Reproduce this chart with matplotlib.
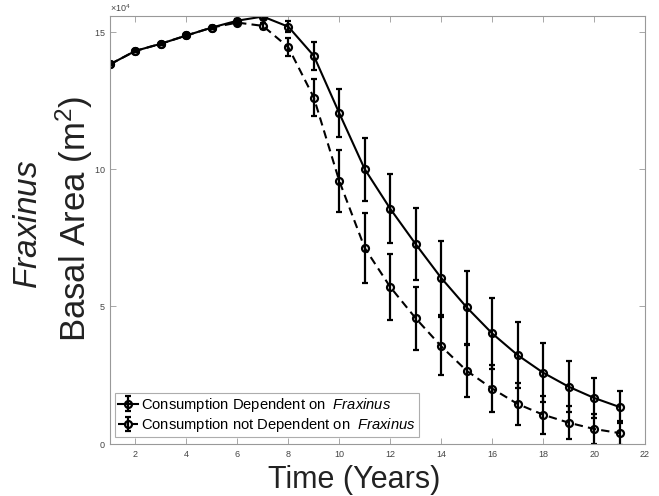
import numpy as np
import matplotlib
matplotlib.use('Agg')
import matplotlib.pyplot as plt

plt.rcParams['font.family'] = ['Liberation Sans', 'DejaVu Sans']
plt.rcParams['mathtext.fontset'] = 'custom'
plt.rcParams['mathtext.rm'] = 'Liberation Sans'
plt.rcParams['mathtext.it'] = 'Liberation Sans:italic'

years = np.arange(1, 22)

# basal area (x 10^4 m^2)
dep_mean = np.array([13.81, 14.30, 14.56, 14.86, 15.15, 15.40, 15.55, 15.18, 14.12, 12.03,
                     9.99, 8.55, 7.26, 6.03, 4.96, 4.01, 3.22, 2.58, 2.07, 1.66, 1.33])
dep_err = np.array([0.02, 0.03, 0.04, 0.05, 0.06, 0.07, 0.08, 0.21, 0.50, 0.87,
                    1.15, 1.26, 1.32, 1.36, 1.34, 1.28, 1.19, 1.08, 0.93, 0.74, 0.59])
nodep_mean = np.array([13.81, 14.30, 14.56, 14.86, 15.15, 15.33, 15.21, 14.43, 12.60, 9.56,
                       7.12, 5.70, 4.56, 3.54, 2.65, 2.00, 1.44, 1.05, 0.76, 0.53, 0.38])
nodep_err = np.array([0.02, 0.03, 0.04, 0.05, 0.06, 0.07, 0.10, 0.33, 0.67, 1.12,
                      1.27, 1.21, 1.14, 1.05, 0.95, 0.87, 0.78, 0.69, 0.61, 0.55, 0.45])

label_dep = 'Consumption Dependent on  $\\it{Fraxinus}$'
label_nodep = 'Consumption not Dependent on  $\\it{Fraxinus}$'

fig = plt.figure(figsize=(6.59, 4.96), dpi=100)
ax = fig.add_axes([0.1669, 0.1058, 0.8119, 0.8625])

kw = dict(color='black', marker='o', markersize=5, markerfacecolor='none',
          markeredgewidth=1.6, elinewidth=1.6, capsize=2.5, capthick=1.4, linewidth=1.5)
ax.errorbar(years, dep_mean * 1e4, yerr=dep_err * 1e4, linestyle='-', label=label_dep, **kw)
ax.errorbar(years, nodep_mean * 1e4, yerr=nodep_err * 1e4, linestyle=(0, (4, 2.5)),
            label=label_nodep, **kw)

ax.set_xlim(1, 22)
ax.set_ylim(0, 15.58e4)
ax.set_xticks(np.arange(2, 23, 2))
ax.set_yticks([0, 5e4, 10e4, 15e4])
ax.ticklabel_format(axis='y', style='sci', scilimits=(4, 4), useMathText=True)
ax.yaxis.get_offset_text().set_fontsize(6.5)
ax.yaxis.get_offset_text().set_color('#444444')

for s in ax.spines.values():
    s.set_color('#999999')
    s.set_linewidth(0.8)
ax.tick_params(direction='in', length=4, width=0.6, colors='#999999',
               labelcolor='#444444', labelsize=6.5, top=True, right=True)
ax.tick_params(axis='y', pad=3)
ax.tick_params(axis='x', pad=5)

leg = ax.legend(loc='lower left', bbox_to_anchor=(0.009, 0.015), borderaxespad=0,
                fontsize=10.6, frameon=True, fancybox=False, handlelength=1.4,
                handletextpad=0.2, borderpad=0.2, labelspacing=0.15)
leg.get_frame().set_edgecolor('#999999')
leg.get_frame().set_linewidth(0.8)

fig.text(0.537, 0.016, 'Time (Years)', ha='center', va='baseline', fontsize=22, color='#222222')
fig.text(0.043, 0.548, '$\\it{Fraxinus}$', rotation=90, ha='center', va='center',
         fontsize=24, color='#222222')
fig.text(0.112, 0.558, 'Basal Area (m$^2$)', rotation=90, ha='center', va='center',
         fontsize=25, color='#222222')

fig.savefig('out.png', dpi=100)
